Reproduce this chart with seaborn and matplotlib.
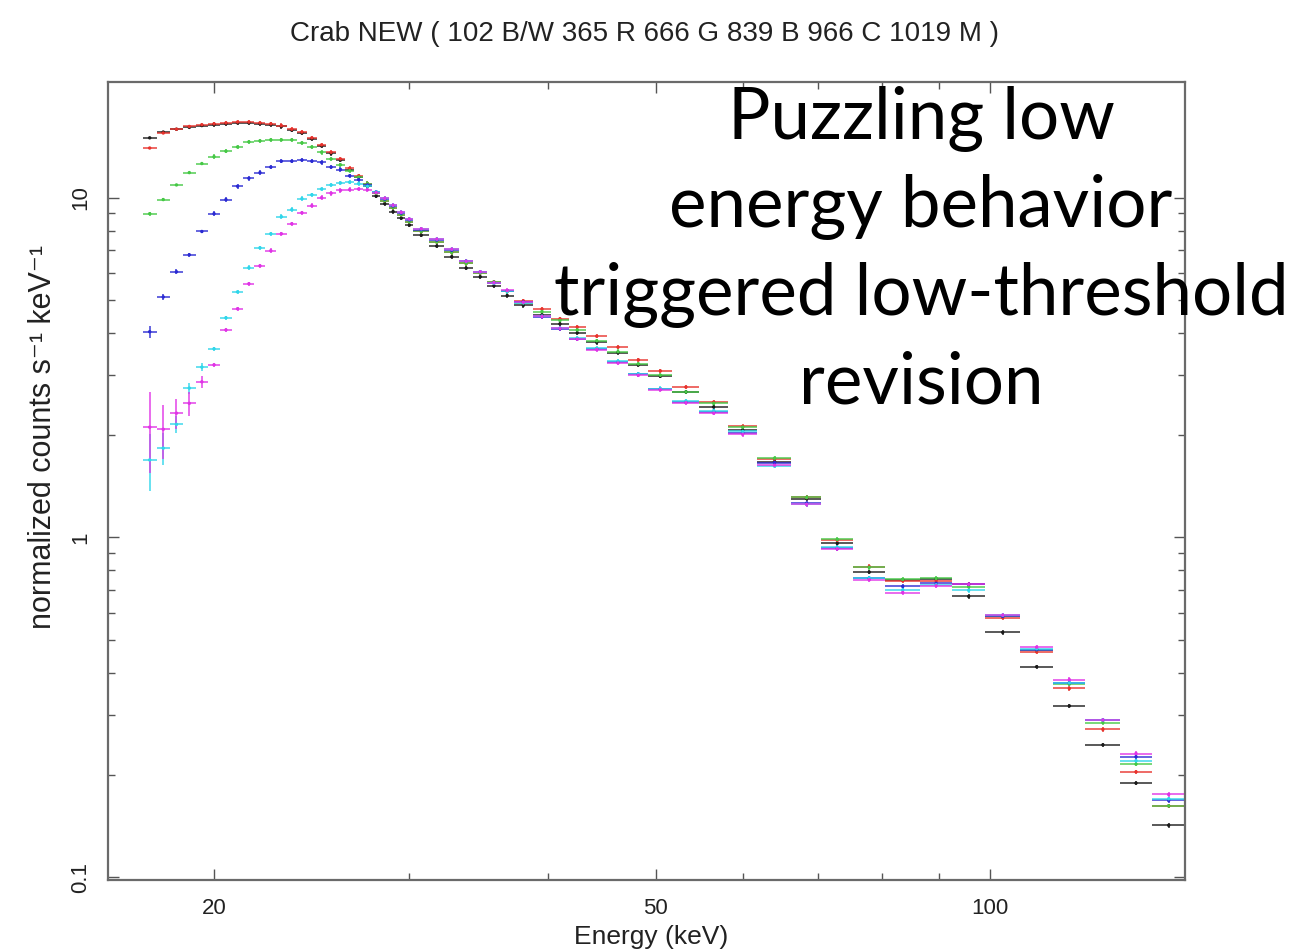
import numpy as np
import pandas as pd
import matplotlib
matplotlib.use("Agg")
import matplotlib.pyplot as plt
from matplotlib.ticker import FixedLocator, NullFormatter, FixedFormatter
import seaborn as sns

# ---------------- data ----------------
energy = [17.5, 18.0, 18.5, 19.0, 19.5, 20.0, 20.5, 21.0, 21.5, 22.0, 22.5, 23.0, 23.5,
          24.0, 24.5, 25.0, 25.5, 26.0, 26.5, 27.0, 27.5, 28.0, 28.5, 29.0, 29.5, 30.0,
          30.75, 31.75, 32.75, 33.75, 34.75, 35.75, 36.75,
          38.0, 39.5, 41.0, 42.5, 44.25, 46.25, 48.25,
          50.5, 53.25, 56.4, 59.9, 64.0, 68.4, 72.9, 77.9, 83.5, 89.5, 95.75,
          102.75, 110.25, 118.0, 126.5, 135.5, 145.0]
half_width = [0.25] * 26 + [0.5] * 7 + [0.75] * 4 + [1.0] * 3 + \
             [1.25, 1.5, 1.65, 1.85, 2.25, 2.15, 2.35, 2.65, 3.0, 3.0, 3.25,
              3.75, 3.75, 4.0, 4.5, 4.5, 5.0]

flux_bw = [15.0, 15.6, 15.9, 16.1, 16.3, 16.4, 16.5, 16.6, 16.6, 16.5, 16.4, 16.2, 15.8,
           15.5, 14.9, 14.2, 13.5, 12.9, 12.1, 11.5, 10.8, 10.1, 9.6, 9.1, 8.7, 8.3,
           7.75, 7.2, 6.7, 6.2, 5.85, 5.5, 5.15,
           4.82, 4.52, 4.25, 4.0, 3.75, 3.5, 3.22,
           2.98, 2.68, 2.42, 2.07, 1.67, 1.30, 0.96, 0.79, 0.75, 0.755, 0.67,
           0.525, 0.416, 0.319, 0.245, 0.189, 0.142]
flux_r = [14.0, 15.5, 15.9, 16.2, 16.4, 16.5, 16.6, 16.7, 16.7, 16.6, 16.5, 16.3, 15.9,
          15.6, 15.0, 14.3, 13.6, 13.0, 12.2, 11.6, 11.0, 10.3, 9.8, 9.35, 8.9, 8.5,
          7.95, 7.4, 6.9, 6.4, 6.0, 5.65, 5.3,
          4.97, 4.70, 4.40, 4.16, 3.91, 3.63, 3.33,
          3.09, 2.77, 2.50, 2.12, 1.70, 1.31, 0.98, 0.82, 0.745, 0.745, 0.727,
          0.58, 0.46, 0.359, 0.272, 0.204, 0.162]
flux_g = [8.97, 9.87, 10.9, 11.85, 12.6, 13.2, 13.7, 14.1, 14.6, 14.7, 14.8, 14.8, 14.8,
          14.5, 14.1, 13.6, 13.0, 12.5, 12.0, 11.5, 11.0, 10.3, 9.8, 9.35, 8.9, 8.5,
          7.95, 7.4, 6.9, 6.4, 6.0, 5.65, 5.3,
          4.9, 4.62, 4.35, 4.08, 3.79, 3.52, 3.24,
          3.0, 2.68, 2.48, 2.11, 1.71, 1.31, 0.986, 0.816, 0.752, 0.757, 0.715,
          0.585, 0.467, 0.37, 0.285, 0.215, 0.162]
flux_b = [4.03, 5.1, 6.05, 6.79, 7.95, 8.97, 9.87, 10.8, 11.4, 11.85, 12.3, 12.8, 12.8,
          12.9, 12.8, 12.7, 12.3, 12.1, 11.6, 11.3, 10.9, 10.4, 9.9, 9.45, 9.0, 8.6,
          8.05, 7.5, 7.0, 6.5, 6.05, 5.61, 5.32,
          4.93, 4.46, 4.11, 3.84, 3.59, 3.28, 3.02,
          2.73, 2.50, 2.34, 2.03, 1.66, 1.26, 0.928, 0.757, 0.717, 0.732, 0.727,
          0.585, 0.467, 0.373, 0.29, 0.226, 0.168]
flux_c = [1.69, 1.83, 2.15, 2.75, 3.17, 3.59, 4.43, 5.28, 6.22, 7.12, 7.83, 8.79, 9.22,
          9.93, 10.2, 10.6, 10.9, 11.05, 11.1, 11.0, 10.8, 10.4, 9.95, 9.5, 9.05, 8.65,
          8.1, 7.55, 7.05, 6.5, 6.05, 5.6, 5.3,
          4.9, 4.48, 4.13, 3.86, 3.6, 3.3, 3.03,
          2.74, 2.52, 2.36, 2.05, 1.62, 1.25, 0.935, 0.76, 0.70, 0.725, 0.698,
          0.59, 0.47, 0.373, 0.29, 0.22, 0.170]
flux_m = [2.11, 2.08, 2.32, 2.48, 2.87, 3.22, 4.08, 4.71, 5.58, 6.30, 6.98, 7.83, 8.38,
          9.03, 9.47, 10.0, 10.3, 10.5, 10.56, 10.6, 10.55, 10.35, 9.95, 9.5, 9.05, 8.65,
          8.1, 7.55, 7.05, 6.5, 6.05, 5.62, 5.33,
          4.92, 4.47, 4.12, 3.83, 3.57, 3.26, 3.0,
          2.72, 2.49, 2.32, 2.01, 1.63, 1.25, 0.925, 0.75, 0.688, 0.72, 0.727,
          0.59, 0.475, 0.381, 0.29, 0.231, 0.175]

# absolute 1-sigma errors of the lowest-energy bins (rest: 1.5 %)
low_err_bw = [0.12, 0.08, 0.06, 0.05, 0.05]
low_err_r = [0.12, 0.08, 0.06, 0.05, 0.05]
low_err_g = [0.12, 0.09, 0.07, 0.06, 0.05]
low_err_b = [0.16, 0.12, 0.10, 0.08, 0.07]
low_err_c = [0.32, 0.20, 0.12, 0.10, 0.08]
low_err_m = [0.56, 0.38, 0.24, 0.20, 0.12]

modules = ["102 B/W", "365 R", "666 G", "839 B", "966 C", "1019 M"]
colors = ["#1a1a1a", "#e8322c", "#45c845", "#2a2ad2", "#2fd6ea", "#e033e6"]
fluxes = [flux_bw, flux_r, flux_g, flux_b, flux_c, flux_m]
low_errs = [low_err_bw, low_err_r, low_err_g, low_err_b, low_err_c, low_err_m]

title_text = "Crab NEW ( 102 B/W 365 R 666 G 839 B 966 C 1019 M )"
note_lines = ["Puzzling low", "energy behavior", "triggered low-threshold", "revision"]

# ---------------- figure ----------------
sns.set_style("ticks")
plt.rcParams["font.family"] = ["Liberation Sans", "DejaVu Sans"]

W, H = 1302, 951
fig = plt.figure(figsize=(W / 100, H / 100), dpi=100)
ax = fig.add_axes([108 / W, 1 - 880 / H, (1185 - 108) / W, (880 - 82) / H])

rows = []
for mod, flux in zip(modules, fluxes):
    for e, f in zip(energy, flux):
        rows.append({"module": mod, "energy": e, "flux": f})
df = pd.DataFrame(rows)

for mod, col, flux, lerr in zip(modules, colors, fluxes, low_errs):
    yerr = [lerr[i] if i < len(lerr) else 0.015 * f for i, f in enumerate(flux)]
    ax.errorbar(energy, flux, xerr=half_width, yerr=yerr, fmt="none",
                ecolor=col, elinewidth=1.2, capsize=0, alpha=0.85, zorder=2)

sns.scatterplot(data=df, x="energy", y="flux", hue="module",
                palette=dict(zip(modules, colors)), s=6, linewidth=0,
                legend=False, ax=ax, zorder=3)

ax.set_xscale("log")
ax.set_yscale("log")
ax.set_xlim(16.05, 150)
ax.set_ylim(0.098, 21.9)

ax.xaxis.set_major_locator(FixedLocator([20, 50, 100]))
ax.xaxis.set_major_formatter(FixedFormatter(["20", "50", "100"]))
ax.xaxis.set_minor_locator(FixedLocator([30, 40, 60, 70, 80, 90]))
ax.xaxis.set_minor_formatter(NullFormatter())
ax.yaxis.set_major_locator(FixedLocator([0.1, 1, 10]))
ax.yaxis.set_major_formatter(FixedFormatter(["0.1", "1", "10"]))
ax.yaxis.set_minor_locator(FixedLocator([0.2, 0.3, 0.4, 0.5, 0.6, 0.7, 0.8, 0.9,
                                         2, 3, 4, 5, 6, 7, 8, 9]))
ax.yaxis.set_minor_formatter(NullFormatter())

ax.tick_params(which="both", direction="in", top=True, right=True,
               color="#555555", labelsize=16, labelcolor="#222222")
ax.tick_params(which="major", length=8, width=1.0)
ax.tick_params(which="minor", length=5, width=1.0)
ax.tick_params(axis="x", pad=13)
ax.tick_params(axis="y", pad=12)
for lab in ax.get_yticklabels():
    lab.set_rotation(90)
    lab.set_va("center")
for sp in ax.spines.values():
    sp.set_color("#6a6a6a")
    sp.set_linewidth(1.6)

ax.set_xlabel("Energy (keV)", fontsize=19, color="#222222")
ax.xaxis.set_label_coords((651 - 108) / 1077, -(937 - 880) / 798)
ax.xaxis.label.set_va("center")
ax.set_ylabel("normalized counts s\u207b\u00b9 keV\u207b\u00b9", fontsize=22,
              color="#222222")
ax.yaxis.set_label_coords(-(108 - 43) / 1077, (880 - 437) / 798)
ax.yaxis.label.set_va("center")

fig.text(645 / W, 1 - 34 / H, title_text, ha="center", va="center",
         fontsize=20, color="#222222")

baselines = [139, 227, 315, 403]
for line, yb in zip(note_lines, baselines):
    fig.text(921 / W, 1 - yb / H, line, ha="center", va="baseline",
             fontsize=51, color="black", family=["Lato", "DejaVu Sans"])

fig.savefig("out.png", dpi=100)
